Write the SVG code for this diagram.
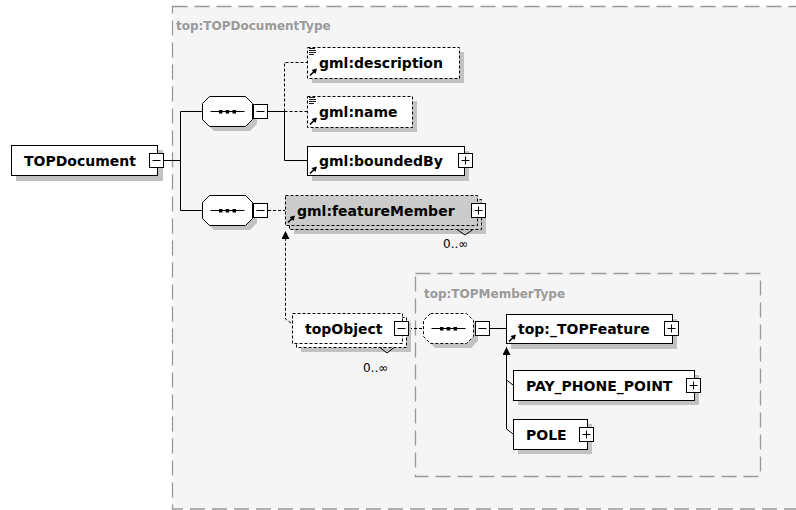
<svg xmlns="http://www.w3.org/2000/svg" xmlns:xlink="http://www.w3.org/1999/xlink" width="796" height="510" viewBox="0 0 796 510">
<style>
.box{fill:#fff;stroke:#000;stroke-width:1}
.gbox{fill:#cbcbcb;stroke:#000;stroke-width:1}
.opt{stroke-dasharray:3,2}
.shadow{fill:#c2c2c2;stroke:none}
.lbl{font-family:"DejaVu Sans",Verdana,sans-serif;font-weight:bold;font-size:14px;fill:#000}
.type{font-family:"DejaVu Sans",Verdana,sans-serif;font-weight:bold;font-size:12px;fill:#9a9a9a}
.card{font-family:"DejaVu Sans",Verdana,sans-serif;font-size:12px;fill:#000}
.ln{stroke:#000;stroke-width:1;fill:none}
.dash{stroke-dasharray:3,2}
.frame{fill:#f5f5f5;stroke:#999;stroke-width:1.3;stroke-dasharray:15,7}
</style>
<defs>
<g id="minus"><rect x="0" y="0" width="14" height="14" fill="#fff" stroke="#000"/><path d="M3,7H11" stroke="#000"/></g>
<g id="plus"><rect x="0" y="0" width="14" height="14" fill="#fff" stroke="#000"/><path d="M3,7H11M7,3V11" stroke="#000"/></g>
<path id="oct" d="M7,0H43L50,7V23L43,30H7L0,23V7Z"/>
<g id="dots"><path d="M8,15H42" stroke="#000"/><rect x="16.5" y="13.5" width="3.5" height="3.5"/><rect x="23.2" y="13.5" width="3.5" height="3.5"/><rect x="30" y="13.5" width="3.5" height="3.5"/></g>
<g id="ref"><path d="M1,8.5L6,3.5" stroke="#000" stroke-width="1.6"/><path d="M8,1.5L2.5,3L6.5,7Z" fill="#000"/></g>
<g id="doc"><path d="M0,0.5H6M0,2.5H7M0,4.5H7M0,6.5H5" stroke="#000" stroke-width="0.9"/></g>
<marker id="arr" viewBox="0 0 8 8" refX="8" refY="4" markerWidth="8" markerHeight="8" orient="auto" markerUnits="userSpaceOnUse"><path d="M0,0L8,4L0,8Z" fill="#000"/></marker>
</defs>
<rect x="0" y="0" width="796" height="510" fill="#fff"/>
<g id="frame-TOPDocumentType">
<rect class="frame" x="172.5" y="6.5" width="700" height="502.5"/>
<text class="type" x="176" y="30">top:TOPDocumentType</text>
</g>
<g id="frame-TOPMemberType">
<rect class="frame" x="415.5" y="273.5" width="345" height="203"/>
<text class="type" x="424" y="298">top:TOPMemberType</text>
</g>
<g id="connectors">
<path class="ln" d="M164,160.5H180.5M180.5,111.5V210.5M180.5,111.5H202M180.5,210.5H202"/>
<path class="ln" d="M268,111.5H284.5V160.5H307"/>
<path class="ln dash" d="M284.5,111.5V62.5H307M284.5,111.5H307"/>
<path class="ln dash" d="M268,210.5H285"/>
<path class="ln dash" d="M291,323L285.5,319V231" marker-end="url(#arr)"/>
<path class="ln dash" d="M409,328.5H423"/>
<path class="ln" d="M489,328.5H506"/>
<path class="ln" d="M513,434L506.5,429V347" marker-end="url(#arr)"/>
<path class="ln" d="M513,385L506.5,380"/>
</g>
<g id="TOPDocument">
<rect class="shadow" x="16" y="150" width="147" height="31"/>
<rect class="box" x="11.5" y="145.5" width="146" height="30"/>
<text class="lbl" x="24" y="165.5">TOPDocument</text>
<use xlink:href="#minus" x="149.5" y="153.5"/>
</g>
<g id="seq1">
<use xlink:href="#oct" x="207" y="101" class="shadow"/>
<use xlink:href="#oct" x="202.5" y="96.5" fill="#fff" stroke="#000"/>
<use xlink:href="#dots" x="202.5" y="96.5"/>
<use xlink:href="#minus" x="253.5" y="104.5"/>
</g>
<g id="seq2">
<use xlink:href="#oct" x="207" y="200" class="shadow"/>
<use xlink:href="#oct" x="202.5" y="195.5" fill="#fff" stroke="#000"/>
<use xlink:href="#dots" x="202.5" y="195.5"/>
<use xlink:href="#minus" x="253.5" y="203.5"/>
</g>
<g id="gml-description">
<rect class="shadow" x="312" y="52" width="152" height="31"/>
<rect class="box opt" x="307.5" y="47.5" width="152" height="31"/>
<use xlink:href="#doc" x="309" y="48"/>
<use xlink:href="#ref" x="309" y="67"/>
<text class="lbl" x="319" y="68">gml:description</text>
</g>
<g id="gml-name">
<rect class="shadow" x="312" y="101" width="105" height="31"/>
<rect class="box opt" x="307.5" y="96.5" width="105" height="31"/>
<use xlink:href="#doc" x="309" y="97"/>
<use xlink:href="#ref" x="309" y="116"/>
<text class="lbl" x="319" y="117">gml:name</text>
</g>
<g id="gml-boundedBy">
<rect class="shadow" x="312" y="151" width="157" height="30"/>
<rect class="box" x="307.5" y="146.5" width="157" height="29"/>
<use xlink:href="#ref" x="309" y="165"/>
<text class="lbl" x="319" y="166">gml:boundedBy</text>
<use xlink:href="#plus" x="458.5" y="153.5"/>
</g>
<g id="gml-featureMember">
<rect class="shadow" x="294" y="204" width="192" height="30"/>
<rect class="gbox opt" x="289.5" y="199.5" width="192" height="30"/>
<rect class="gbox opt" x="285.5" y="195.5" width="192" height="30"/>
<use xlink:href="#ref" x="287" y="214"/>
<text class="lbl" x="297" y="216">gml:featureMember</text>
<use xlink:href="#plus" x="471.5" y="203.5"/>
<path class="ln" d="M457,229.5L465,235L473,229.5"/>
<text class="card" x="443" y="248">0..∞</text>
</g>
<g id="topObject">
<rect class="shadow" x="301" y="322" width="110" height="30"/>
<rect class="box opt" x="296.5" y="317.5" width="110" height="30"/>
<rect class="box opt" x="292.5" y="313.5" width="110" height="30"/>
<text class="lbl" x="305" y="334">topObject</text>
<use xlink:href="#minus" x="394.5" y="321.5"/>
<path class="ln" d="M380,347.5L387,353L394,347.5"/>
<text class="card" x="363" y="372">0..∞</text>
</g>
<g id="seq3">
<use xlink:href="#oct" x="428" y="318" class="shadow"/>
<use xlink:href="#oct" x="423.5" y="313.5" fill="#fff" stroke="#000" class="opt"/>
<use xlink:href="#dots" x="423.5" y="313.5"/>
<use xlink:href="#minus" x="475.5" y="321.5"/>
</g>
<g id="top-TOPFeature">
<rect class="shadow" x="511" y="319" width="166" height="30"/>
<rect class="box" x="506.5" y="314.5" width="166" height="29"/>
<use xlink:href="#ref" x="508" y="333"/>
<text class="lbl" x="518" y="334">top:_TOPFeature</text>
<use xlink:href="#plus" x="664.5" y="321.5"/>
</g>
<g id="PAY_PHONE_POINT">
<rect class="shadow" x="518" y="375" width="181" height="30"/>
<rect class="box" x="513.5" y="370.5" width="181" height="30"/>
<text class="lbl" x="526" y="391">PAY_PHONE_POINT</text>
<use xlink:href="#plus" x="686.5" y="378.5"/>
</g>
<g id="POLE">
<rect class="shadow" x="518" y="424" width="74" height="30"/>
<rect class="box" x="513.5" y="419.5" width="74" height="30"/>
<text class="lbl" x="526" y="440">POLE</text>
<use xlink:href="#plus" x="579.5" y="427.5"/>
</g>
</svg>
